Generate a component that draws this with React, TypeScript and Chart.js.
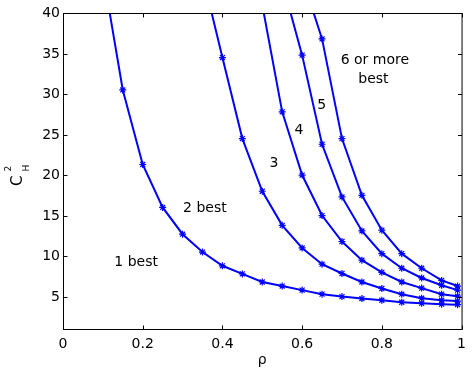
import React, { useEffect, useRef } from 'react';
import { Chart, registerables } from 'chart.js';

Chart.register(...registerables);

// Axis ticks
const X_TICKS = [0, 0.2, 0.4, 0.6, 0.8, 1];
const Y_TICKS = [5, 10, 15, 20, 25, 30, 35, 40];

// Boundary curves (rho, C_H^2)
const RHO_1 = [0.1, 0.15, 0.2, 0.25, 0.3, 0.35, 0.4, 0.45, 0.5, 0.55, 0.6, 0.65, 0.7, 0.75, 0.8, 0.85, 0.9, 0.95, 0.99];
const CH2_1 = [45.0, 30.5, 21.3, 16.0, 12.7, 10.5, 8.8, 7.8, 6.8, 6.3, 5.8, 5.3, 5.0, 4.76, 4.55, 4.3, 4.18, 4.06, 4.0];

const RHO_2 = [0.35, 0.4, 0.45, 0.5, 0.55, 0.6, 0.65, 0.7, 0.75, 0.8, 0.85, 0.9, 0.95, 0.99];
const CH2_2 = [44.7, 34.5, 24.5, 18.0, 13.8, 11.0, 9.0, 7.85, 6.8, 6.0, 5.3, 4.8, 4.55, 4.45];

const RHO_3 = [0.5, 0.55, 0.6, 0.65, 0.7, 0.75, 0.8, 0.85, 0.9, 0.95, 0.99];
const CH2_3 = [41.0, 27.8, 20.0, 15.0, 11.8, 9.5, 8.0, 6.8, 6.05, 5.3, 5.05];

const RHO_4 = [0.55, 0.6, 0.65, 0.7, 0.75, 0.8, 0.85, 0.9, 0.95, 0.99];
const CH2_4 = [43.8, 34.8, 23.8, 17.3, 13.1, 10.3, 8.5, 7.3, 6.4, 5.8];

const RHO_5 = [0.6, 0.65, 0.7, 0.75, 0.8, 0.85, 0.9, 0.95, 0.99];
const CH2_5 = [44.4, 36.8, 24.5, 17.5, 13.2, 10.3, 8.5, 7.0, 6.3];

// Region labels (data coordinates, text baseline)
const REGION_LABELS = ['1 best', '2 best', '3', '4', '5', '6 or more', 'best'];
const REGION_X = [0.1835, 0.356, 0.529, 0.592, 0.649, 0.7825, 0.779];
const REGION_Y = [8.78, 15.44, 20.98, 25.02, 28.19, 33.65, 31.39];

const FONT = '"DejaVu Sans", "Liberation Sans", sans-serif';

const framePlugin = {
  id: 'matlabFrame',
  afterDraw(chart: any) {
    const { ctx, chartArea, scales } = chart;
    const { left, right, top, bottom } = chartArea;
    const xs = scales.x;
    const ys = scales.y;
    ctx.save();
    ctx.strokeStyle = '#000';
    ctx.lineWidth = 1;
    ctx.strokeRect(left + 0.5, top + 0.5, right - left, bottom - top);
    const tl = 4;
    ctx.beginPath();
    X_TICKS.forEach((v) => {
      const px = Math.round(xs.getPixelForValue(v)) + 0.5;
      ctx.moveTo(px, bottom + 0.5);
      ctx.lineTo(px, bottom + 0.5 - tl);
      ctx.moveTo(px, top + 0.5);
      ctx.lineTo(px, top + 0.5 + tl);
    });
    Y_TICKS.forEach((v) => {
      const py = Math.round(ys.getPixelForValue(v)) + 0.5;
      ctx.moveTo(left + 0.5, py);
      ctx.lineTo(left + 0.5 + tl, py);
      ctx.moveTo(right + 0.5, py);
      ctx.lineTo(right + 0.5 - tl, py);
    });
    ctx.stroke();

    // region labels
    ctx.fillStyle = '#000';
    ctx.font = '14px ' + FONT;
    ctx.textAlign = 'center';
    ctx.textBaseline = 'alphabetic';
    REGION_LABELS.forEach((t, i) => {
      ctx.fillText(t, xs.getPixelForValue(REGION_X[i]), ys.getPixelForValue(REGION_Y[i]));
    });

    // x axis title
    ctx.font = '14px ' + FONT;
    ctx.fillText('ρ', (left + right) / 2, 364);

    // y axis title: C with superscript 2 and subscript H, rotated
    ctx.translate(22, 186);
    ctx.rotate(-Math.PI / 2);
    ctx.textAlign = 'left';
    ctx.font = '15px ' + FONT;
    ctx.fillText('C', 0, 0);
    ctx.font = '9px ' + FONT;
    ctx.fillText('2', 14.5, -11.3);
    ctx.fillText('H', 14.5, 7.3);
    ctx.restore();
  },
};

function makeSeries(xs: number[], ys: number[]) {
  return xs.map((x, i) => ({ x, y: ys[i] }));
}

export default function App() {
  const ref = useRef<HTMLCanvasElement | null>(null);

  useEffect(() => {
    if (!ref.current) return;
    const series = [
      makeSeries(RHO_1, CH2_1),
      makeSeries(RHO_2, CH2_2),
      makeSeries(RHO_3, CH2_3),
      makeSeries(RHO_4, CH2_4),
      makeSeries(RHO_5, CH2_5),
    ];
    const chart = new Chart(ref.current, {
      type: 'line',
      data: {
        datasets: series.map((d, i) => ({
          label: 'boundary ' + (i + 1),
          data: d,
          borderColor: '#0000ff',
          backgroundColor: '#0000ff',
          borderWidth: 2,
          pointStyle: 'star',
          pointRadius: 3.5,
          pointBorderWidth: 1.2,
          pointBorderColor: '#0000ff',
          tension: 0,
          fill: false,
        })),
      },
      options: {
        animation: false,
        responsive: false,
        maintainAspectRatio: false,
        events: [],
        layout: { padding: { left: 0, top: 13, right: 10, bottom: 0 } },
        plugins: {
          legend: { display: false },
          tooltip: { enabled: false },
        },
        scales: {
          x: {
            type: 'linear',
            min: 0,
            max: 1,
            grid: { display: false, drawTicks: false },
            border: { display: false },
            ticks: {
              color: '#000',
              padding: 7,
              font: { family: FONT, size: 14 },
              maxRotation: 0,
              autoSkip: false,
              callback: (v: any) => {
                const n = Number(v);
                if (n === 0) return '0';
                if (n === 1) return '1';
                return n.toFixed(1);
              },
            },
            afterBuildTicks: (s: any) => {
              s.ticks = X_TICKS.map((v) => ({ value: v }));
            },
            afterFit: (s: any) => {
              s.height = 44;
            },
          },
          y: {
            type: 'linear',
            min: 1,
            max: 40,
            grid: { display: false, drawTicks: false },
            border: { display: false },
            ticks: {
              color: '#000',
              padding: 3,
              labelOffset: 0.5,
              font: { family: FONT, size: 14 },
              autoSkip: false,
              callback: (v: any) => String(v),
            },
            afterBuildTicks: (s: any) => {
              s.ticks = Y_TICKS.map((v) => ({ value: v }));
            },
            afterFit: (s: any) => {
              s.width = 63;
            },
          },
        },
      },
      plugins: [framePlugin],
    });
    return () => chart.destroy();
  }, []);

  return (
    <div style={{ position: 'absolute', left: 0, top: 0, width: 473, height: 373, background: '#fff' }}>
      <canvas ref={ref} width={473} height={373} style={{ width: 473, height: 373, display: 'block' }} />
    </div>
  );
}
